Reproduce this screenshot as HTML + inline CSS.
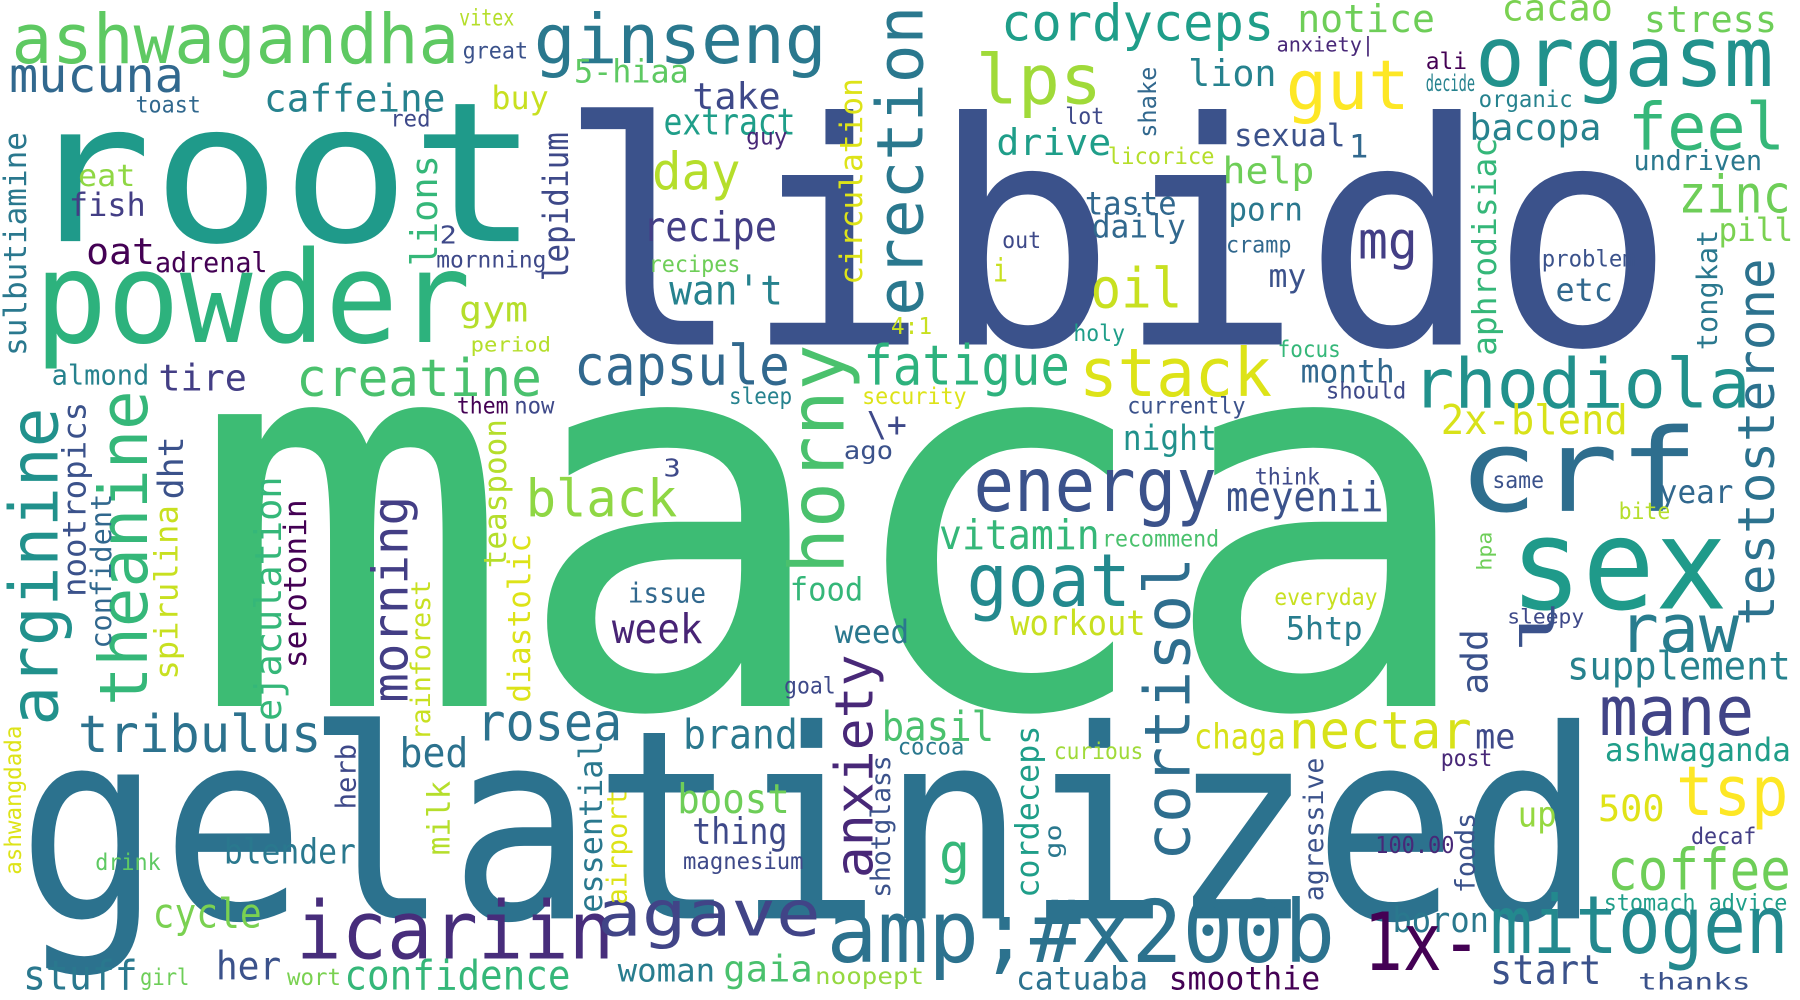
<!DOCTYPE html>
<html><head><meta charset="utf-8">
<style>
html,body{margin:0;padding:0;background:#fff;}
svg{display:block;}
text{font-family:"DejaVu Sans Mono","Liberation Mono",monospace;}
</style></head>
<body>
<svg id="cloud" width="1800" height="1000" viewBox="0 0 1568 871" xmlns="http://www.w3.org/2000/svg">
<rect width="1568" height="871" fill="#ffffff"/>
</svg>
<script>
// Horizontal words: [text, x0, x1, baseline, fontSize, color]
const hWords = [
["maca",165,1290,615,465,"#3dbc74"],
["libido",485,1460,300,270,"#3b528b"],
["gelatinized",15,1395,800,230,"#2c728e"],
["root",20,470,210,170,"#1f9a8a"],
["powder",30,410,298,110,"#2db27d"],
["ashwagandha",10,400,55,60,"#5ec962"],
["ginseng",465,720,55,60,"#2a788e"],
["cordyceps",872,1110,35,44,"#1f9e89"],
["orgasm",1285,1545,75,72,"#21918c"],
["notice",1130,1250,28,33,"#6ece58"],
["cacao",1308,1405,18,32,"#7ad151"],
["stress",1432,1548,28,32,"#6ece58"],
["mucuna",8,160,80,42,"#31688e"],
["lps",850,960,90,60,"#a0da39"],
["gut",1120,1228,95,60,"#fde725"],
["feel",1418,1555,130,57,"#35b779"],
["caffeine",230,388,97,33,"#26828e"],
["5-hiaa",500,600,72,28,"#5ec962"],
["buy",428,478,95,28,"#c8e020"],
["take",603,680,95,32,"#3e4989"],
["lion",1035,1112,75,32,"#26828e"],
["extract",578,693,117,32,"#1f9e89"],
["drive",868,968,135,32,"#1f9e89"],
["sexual",1075,1172,127,27,"#3b528b"],
["bacopa",1280,1395,122,32,"#26828e"],
["day",568,645,165,45,"#b5de2b"],
["help",1065,1145,160,32,"#6ece58"],
["taste",945,1025,187,28,"#31688e"],
["daily",951,1033,207,28,"#31688e"],
["porn",1070,1135,192,28,"#2a788e"],
["zinc",1462,1560,185,45,"#6ece58"],
["recipe",560,677,210,36,"#433e85"],
["mg",1183,1235,225,45,"#433e85"],
["oil",950,1030,268,48,"#c8e020"],
["wan't",583,682,265,36,"#26828e"],
["my",1105,1138,250,28,"#3b528b"],
["etc",1355,1405,262,28,"#31688e"],
["pill",1497,1562,210,28,"#7ad151"],
["gym",400,460,280,30,"#b5de2b"],
["stack",940,1108,345,58,"#dde318"],
["fatigue",752,932,335,48,"#2db27d"],
["capsule",500,688,335,48,"#31688e"],
["creatine",258,472,345,45,"#4ac16d"],
["tire",138,215,340,32,"#433e85"],
["almond",45,130,335,24,"#26828e"],
["rhodiola",1230,1525,355,60,"#21918c"],
["month",1133,1215,333,28,"#31688e"],
["should",1155,1225,347,20,"#3e4989"],
["currently",982,1085,360,20,"#3b528b"],
["night",978,1060,392,30,"#21918c"],
["2x-blend",1255,1418,378,36,"#d8e219"],
["crf",1270,1480,445,100,"#2e6e8e"],
["sex",1315,1505,530,110,"#1f9a8a"],
["energy",848,1060,445,65,"#3b528b"],
["black",458,590,450,45,"#8fd744"],
["meyenii",1068,1205,445,36,"#3b528b"],
["year",1445,1510,438,28,"#31688e"],
["vitamin",818,958,478,36,"#35b779"],
["recommend",960,1062,476,20,"#4ac16d"],
["goat",842,985,528,64,"#23898e"],
["raw",1410,1515,568,58,"#287d8e"],
["food",688,752,523,28,"#35b779"],
["issue",547,615,525,24,"#31688e"],
["everyday",1110,1200,527,20,"#c8e020"],
["workout",880,998,553,30,"#c8e020"],
["week",533,612,560,36,"#482475"],
["weed",727,792,560,28,"#2a788e"],
["5htp",1120,1187,557,28,"#287d8e"],
["supplement",1365,1560,592,34,"#26828e"],
["mane",1393,1528,640,60,"#414487"],
["nectar",1123,1282,652,45,"#d8e219"],
["tribulus",68,280,655,45,"#2c728e"],
["rosea",415,542,645,45,"#2c728e"],
["brand",595,695,652,36,"#2a788e"],
["basil",768,866,645,36,"#4ac16d"],
["chaga",1040,1120,652,30,"#d8e219"],
["me",1285,1320,652,30,"#3e4989"],
["ashwaganda",1398,1560,663,28,"#1f9e89"],
["bed",348,408,668,36,"#2c728e"],
["curious",918,996,661,20,"#a0da39"],
["cocoa",782,840,657,20,"#2a788e"],
["post",1255,1300,667,20,"#482878"],
["tsp",1460,1558,710,60,"#fde725"],
["boost",590,688,708,36,"#6ece58"],
["500",1392,1450,715,32,"#e0e318"],
["decaf",1473,1530,735,20,"#433e85"],
["thing",603,686,735,32,"#3e4989"],
["up",1322,1356,720,30,"#95d840"],
["blender",195,310,752,30,"#2a788e"],
["magnesium",595,700,757,20,"#3e4989"],
["drink",83,140,758,20,"#5ec962"],
["coffee",1400,1560,775,50,"#6ece58"],
["100.00",1198,1267,743,20,"#482878"],
["g",818,845,760,48,"#35b779"],
["cycle",133,228,808,36,"#7ad151"],
["stomach advice",1397,1557,793,20,"#1f9e89"],
["boron",1213,1297,812,30,"#2a788e"],
["icariin",258,535,835,70,"#472d7b"],
["agave",520,715,815,55,"#414487"],
["amp;#x200b",720,1163,838,75,"#2c728e"],
["1x-",1188,1290,845,70,"#440154"],
["mitogen",1298,1558,830,70,"#23898e"],
["her",188,245,853,34,"#3b528b"],
["stuff",20,120,862,36,"#2a788e"],
["girl",122,165,858,20,"#6ece58"],
["wort",250,297,858,20,"#7ad151"],
["confidence",300,497,862,36,"#35b779"],
["woman",538,623,855,28,"#287d8e"],
["gaia",630,708,855,32,"#4ac16d"],
["noopept",710,805,857,20,"#95d840"],
["catuaba",885,1000,862,28,"#2c728e"],
["smoothie",1018,1150,862,28,"#440154"],
["start",1298,1395,857,36,"#3b528b"],
["thanks",1427,1525,862,20,"#3b528b"],
["goal",683,728,604,20,"#3e4989"],
["fish",60,127,188,28,"#433e85"],
["eat",68,118,162,26,"#8fd744"],
["oat",75,135,230,32,"#440154"],
["adrenal",135,233,237,24,"#440154"],
["mornning",380,476,233,20,"#3e4989"],
["2",383,398,212,22,"#3e4989"],
["recipes",565,645,237,20,"#6ece58"],
["vitex",400,448,22,20,"#b5de2b"],
["great",403,460,51,20,"#3b528b"],
["toast",118,175,98,20,"#31688e"],
["red",340,375,110,20,"#3e4989"],
["guy",650,686,126,20,"#482878"],
["lot",928,962,108,20,"#3e4989"],
["licorice",965,1058,143,20,"#b5de2b"],
["1",1175,1192,137,28,"#31688e"],
["anxiety|",1112,1197,45,18,"#482878"],
["ali",1242,1278,60,20,"#440154"],
["decide",1242,1285,79,20,"#26828e"],
["organic",1288,1370,93,20,"#26828e"],
["undriven",1423,1535,148,24,"#2a788e"],
["out",873,907,216,20,"#3e4989"],
["cramp",1068,1125,220,20,"#31688e"],
["i",865,878,245,28,"#c8e020"],
["problem",1343,1425,232,20,"#3b528b"],
["holy",935,980,297,20,"#1f9e89"],
["focus",1113,1168,311,20,"#35b779"],
["4:1",776,812,291,20,"#c8e020"],
["period",410,480,306,18,"#b5de2b"],
["sleep",635,690,352,20,"#26828e"],
["security",751,842,352,20,"#dde318"],
["them",398,443,360,20,"#440154"],
["now",448,483,360,20,"#3e4989"],
["\\+",755,790,380,30,"#3e4989"],
["ago",735,778,400,22,"#3b528b"],
["3",578,593,415,22,"#3e4989"],
["think",1093,1150,422,20,"#3e4989"],
["same",1300,1345,425,20,"#3b528b"],
["bite",1410,1455,452,20,"#b5de2b"],
["sleepy",1313,1380,543,18,"#3e4989"]
];
// Vertical words (read bottom-to-top): [text, centerX, yTop, yBottom, fontSize, color]
const vWords = [
["erection",785,5,275,56,"#2a788e"],
["horny",712,300,500,66,"#4ac16d"],
["anxiety",745,570,765,46,"#482878"],
["cortisol",1017,485,750,55,"#2e6e8e"],
["arginine",30,355,632,58,"#21918c"],
["theanine",108,340,615,58,"#35b779"],
["nootropics",65,350,520,28,"#3b528b"],
["confident",88,430,565,25,"#31688e"],
["dht",150,380,435,30,"#3b528b"],
["spirulina",145,440,592,28,"#c8e020"],
["sulbutiamine",14,115,310,27,"#2a788e"],
["lions",370,135,232,32,"#35b779"],
["lepidium",485,115,245,30,"#3e4989"],
["circulation",742,68,248,27,"#dde318"],
["shake",1000,58,120,21,"#31688e"],
["aphrodisiac",1293,120,310,29,"#35b779"],
["tongkat",1487,200,305,25,"#2a788e"],
["testosterone",1530,225,545,44,"#2c728e"],
["ejaculation",234,415,628,32,"#35b779"],
["serotonin",258,435,582,27,"#440154"],
["morning",340,432,612,43,"#433e85"],
["teaspoon",432,365,495,27,"#b5de2b"],
["diastolic",453,465,612,27,"#dde318"],
["rainforest",367,505,645,23,"#c8e020"],
["milk",383,680,745,27,"#b5de2b"],
["herb",302,648,705,24,"#3e4989"],
["ashwangdada",12,632,762,20,"#dde318"],
["essential",515,645,795,28,"#2a788e"],
["airport",538,688,788,24,"#dde318"],
["shotglass",768,658,782,23,"#3b528b"],
["cordeceps",895,632,782,28,"#1f9e89"],
["go",918,718,748,20,"#2a788e"],
["agressive",1145,660,785,23,"#3b528b"],
["foods",1277,708,778,23,"#3b528b"],
["add",1285,548,605,32,"#3b528b"],
["hpa",1293,463,497,18,"#6ece58"],
["l",1340,520,570,40,"#3b528b"]
];
const NS = "http://www.w3.org/2000/svg";
const svg = document.getElementById("cloud");
function slug(s){ return s.replace(/[^a-z0-9]+/gi,"-").replace(/^-|-$/g,"").toLowerCase() || "symbol"; }
hWords.forEach(function(w){
  const t = document.createElementNS(NS,"text");
  t.setAttribute("x", w[1]);
  t.setAttribute("y", w[3]);
  t.setAttribute("font-size", w[4]);
  t.setAttribute("fill", w[5]);
  t.setAttribute("textLength", w[2]-w[1]);
  t.setAttribute("lengthAdjust", "spacingAndGlyphs");
  t.textContent = w[0];
  
  
  svg.appendChild(t);
});
vWords.forEach(function(w){
  const t = document.createElementNS(NS,"text");
  const cy = (w[2]+w[3])/2;
  t.setAttribute("transform", "translate(" + w[1] + "," + cy + ") rotate(-90)");
  t.setAttribute("x", 0);
  t.setAttribute("y", 0);
  t.setAttribute("text-anchor", "middle");
  t.setAttribute("dominant-baseline", "central");
  t.setAttribute("font-size", w[4]);
  t.setAttribute("fill", w[5]);
  t.setAttribute("textLength", w[3]-w[2]);
  t.setAttribute("lengthAdjust", "spacingAndGlyphs");
  t.textContent = w[0];
  
  
  svg.appendChild(t);
});
</script>
</body></html>
